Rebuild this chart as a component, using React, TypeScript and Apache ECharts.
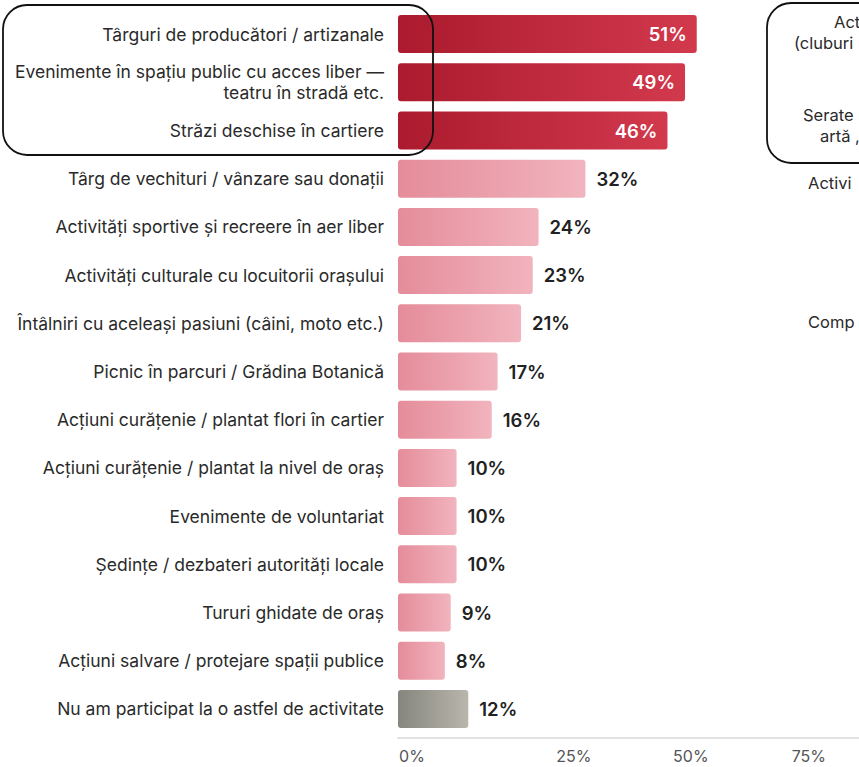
import React, { useEffect, useRef } from "react";
import * as echarts from "echarts";

const categories = [
  "Târguri de producători / artizanale",
  "Evenimente în spațiu public cu acces liber —\nteatru în stradă etc.",
  "Străzi deschise în cartiere",
  "Târg de vechituri / vânzare sau donații",
  "Activități sportive și recreere în aer liber",
  "Activități culturale cu locuitorii orașului",
  "Întâlniri cu aceleași pasiuni (câini, moto etc.)",
  "Picnic în parcuri / Grădina Botanică",
  "Acțiuni curățenie / plantat flori în cartier",
  "Acțiuni curățenie / plantat la nivel de oraș",
  "Evenimente de voluntariat",
  "Ședințe / dezbateri autorități locale",
  "Tururi ghidate de oraș",
  "Acțiuni salvare / protejare spații publice",
  "Nu am participat la o astfel de activitate",
];

const values = [51, 49, 46, 32, 24, 23, 21, 17, 16, 10, 10, 10, 9, 8, 12];

const tickValues = [0, 25, 50, 75];

const sideLabels = ["Act", "(cluburi", "Serate", "artă ,", "Activi", "Comp"];

const FONT = "Inter, 'Noto Sans', sans-serif";

function grad(a: string, b: string) {
  return new echarts.graphic.LinearGradient(0, 0, 1, 0, [
    { offset: 0, color: a },
    { offset: 1, color: b },
  ]);
}

export default function App() {
  const ref = useRef<HTMLDivElement>(null);
  useEffect(() => {
    if (!ref.current) return;
    const chart = echarts.init(ref.current, undefined, { renderer: "svg" });
    const n = values.length;
    const data = values.map((v, i) => {
      const top = i < 3;
      const none = i === n - 1;
      return {
        value: v,
        itemStyle: {
          color: top
            ? grad("#ab1a2e", "#d2394d")
            : none
            ? grad("#86867e", "#b9b6ac")
            : grad("#e58c9a", "#f1b4be"),
          borderRadius: 3,
        },
        label: top
          ? {
              position: "insideRight",
              distance: 10,
              color: "#ffffff",
            }
          : { position: "right", distance: 11, color: "#222222" },
      };
    });
    const sideY = [22, 43, 115, 136, 183, 322];
    const sideX = [834, 794, 803, 820, 808, 808];
    const axisText = { fontFamily: FONT, fontSize: 16, color: "#555555" };
    chart.setOption({
      animation: false,
      grid: { left: 398, top: 10, right: 0, height: 723 },
      xAxis: {
        type: "value",
        min: 0,
        max: 78.7,
        interval: 25,
        offset: 5,
        splitLine: { show: false },
        axisTick: { show: false },
        axisLine: { show: true, lineStyle: { color: "#e2e2e2", width: 2 } },
        axisLabel: {
          margin: 10,
          showMaxLabel: false,
          ...axisText,
          formatter: (v: number) => {
            if (!tickValues.includes(v)) return "";
            return `{t${v}|${v}%}`;
          },
          rich: {
            t0: { padding: [0, 0, 0, 28], ...axisText },
            t25: { padding: [0, 0, 0, 59], ...axisText },
            t50: { ...axisText },
            t75: { padding: [0, 57, 0, 0], ...axisText },
          },
        },
      },
      yAxis: {
        type: "category",
        inverse: true,
        data: categories,
        axisLine: { show: false },
        axisTick: { show: false },
        axisLabel: {
          margin: 14,
          fontFamily: FONT,
          fontSize: 17.5,
          lineHeight: 21,
          color: "#2a2a2a",
          align: "right",
        },
      },
      series: [
        {
          type: "bar",
          data,
          barWidth: 38,
          label: {
            show: true,
            formatter: "{c}%",
            fontFamily: FONT,
            fontSize: 18.5,
            fontWeight: 600,
          },
        },
      ],
      graphic: [
        {
          type: "rect",
          shape: { x: 3, y: 5, width: 430, height: 150, r: 24 },
          style: { fill: "none", stroke: "#111111", lineWidth: 1.8 },
          z: 100,
        },
        {
          type: "rect",
          shape: { x: 767, y: 3, width: 200, height: 160, r: 24 },
          style: { fill: "none", stroke: "#111111", lineWidth: 1.8 },
          z: 100,
        },
        ...sideLabels.map((t, i) => ({
          type: "text",
          x: sideX[i],
          y: sideY[i],
          style: {
            text: t,
            fontFamily: FONT,
            fontSize: 16.5,
            fill: "#2a2a2a",
            verticalAlign: "middle",
            align: "left",
          },
        })),
      ],
    });
    return () => chart.dispose();
  }, []);
  return (
    <div
      ref={ref}
      style={{ position: "absolute", left: 0, top: 0, width: 859, height: 767, background: "#fff" }}
    />
  );
}
